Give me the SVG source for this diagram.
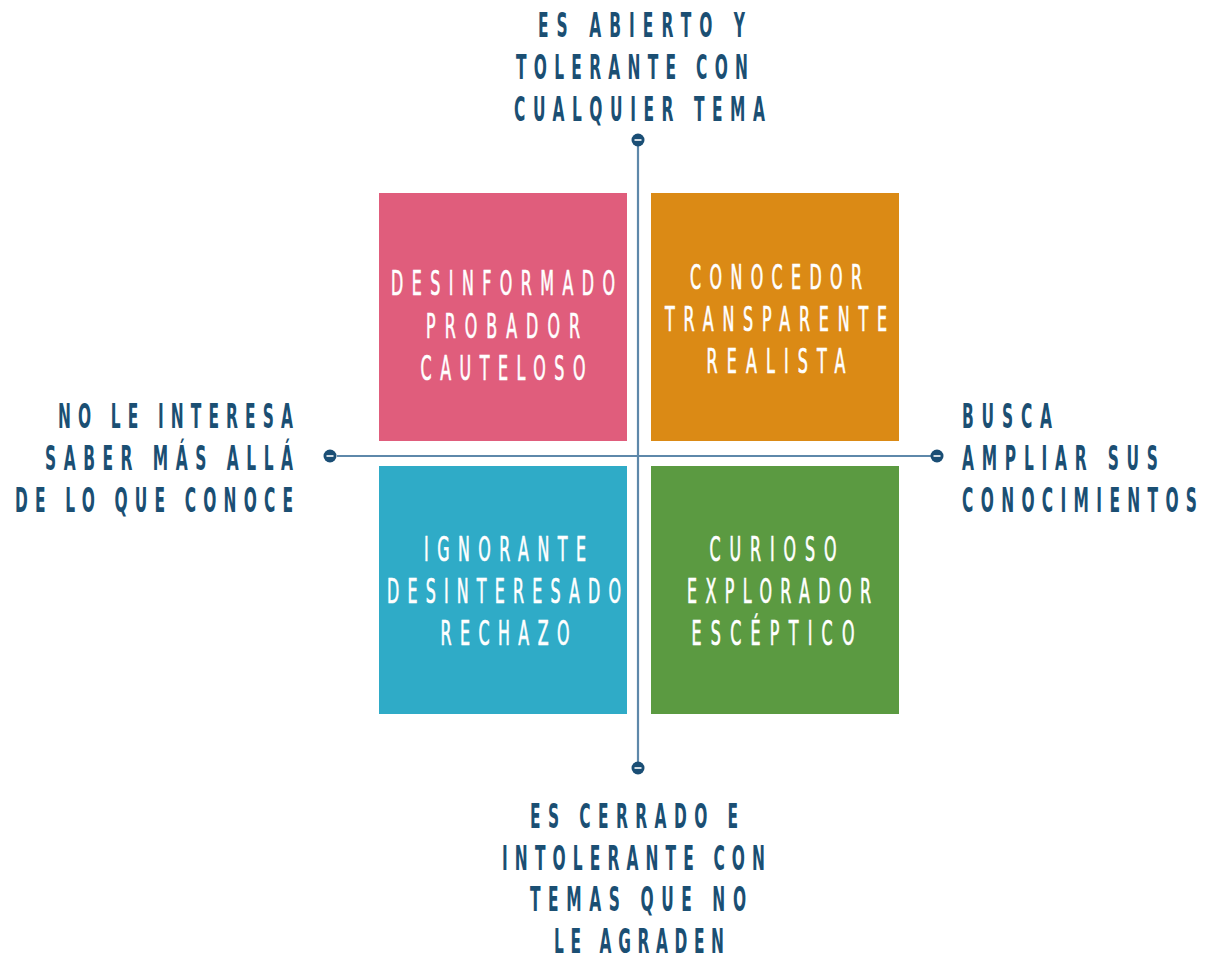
<svg xmlns="http://www.w3.org/2000/svg" width="1209" height="961" viewBox="0 0 1209 961">
<style>
.lbl{font-family:"DejaVu Sans Condensed","DejaVu Sans","Liberation Sans",sans-serif;font-stretch:condensed;font-weight:bold;font-size:33px;fill:#1b4f73;}
.box{font-family:"DejaVu Sans Condensed","DejaVu Sans","Liberation Sans",sans-serif;font-stretch:condensed;font-size:34px;fill:#ffffff;text-anchor:middle;stroke:#ffffff;stroke-width:0.7;}
.axis{stroke:#5e88aa;stroke-width:2.2;fill:none;}
.dot{fill:#1a4e75;}
.dash{stroke:#ffffff;stroke-width:1.6;}
</style>
<rect width="1209" height="961" fill="#ffffff"/>
<g id="connectors">
<line class="axis" x1="638" y1="146" x2="638" y2="762"/>
<line class="axis" x1="337" y1="456" x2="931" y2="456"/>
</g>
<g id="node-top-end"><circle class="dot" cx="638" cy="140" r="6.5"/><line class="dash" x1="634.5" y1="140" x2="641.5" y2="140"/></g>
<g id="node-bottom-end"><circle class="dot" cx="638" cy="768" r="6.5"/><line class="dash" x1="634.5" y1="768" x2="641.5" y2="768"/></g>
<g id="node-left-end"><circle class="dot" cx="330" cy="456" r="6.5"/><line class="dash" x1="326.5" y1="456" x2="333.5" y2="456"/></g>
<g id="node-right-end"><circle class="dot" cx="937" cy="456" r="6.5"/><line class="dash" x1="933.5" y1="456" x2="940.5" y2="456"/></g>

<g id="node-desinformado">
<rect x="379" y="193" width="248" height="248" fill="#e05d7c"/>
<text class="box" transform="translate(503,295) scale(0.52,1)" textLength="430.8" lengthAdjust="spacing">DESINFORMADO</text>
<text class="box" transform="translate(503,338) scale(0.52,1)" textLength="296.2" lengthAdjust="spacing">PROBADOR</text>
<text class="box" transform="translate(503,380) scale(0.52,1)" textLength="317.3" lengthAdjust="spacing">CAUTELOSO</text>
</g>
<g id="node-conocedor">
<rect x="651" y="193" width="248" height="248" fill="#db8a15"/>
<text class="box" transform="translate(776,289) scale(0.52,1)" textLength="330.8" lengthAdjust="spacing">CONOCEDOR</text>
<text class="box" transform="translate(776,331) scale(0.52,1)" textLength="426.9" lengthAdjust="spacing">TRANSPARENTE</text>
<text class="box" transform="translate(776,373) scale(0.52,1)" textLength="267.3" lengthAdjust="spacing">REALISTA</text>
</g>
<g id="node-ignorante">
<rect x="379" y="466" width="248" height="248" fill="#2fabc7"/>
<text class="box" transform="translate(505,561) scale(0.52,1)" textLength="311.5" lengthAdjust="spacing">IGNORANTE</text>
<text class="box" transform="translate(504,603) scale(0.52,1)" textLength="450" lengthAdjust="spacing">DESINTERESADO</text>
<text class="box" transform="translate(505,645) scale(0.52,1)" textLength="248.1" lengthAdjust="spacing">RECHAZO</text>
</g>
<g id="node-curioso">
<rect x="651" y="466" width="248" height="248" fill="#5b9a41"/>
<text class="box" transform="translate(773,561) scale(0.52,1)" textLength="244.2" lengthAdjust="spacing">CURIOSO</text>
<text class="box" transform="translate(779,603) scale(0.52,1)" textLength="353.8" lengthAdjust="spacing">EXPLORADOR</text>
<text class="box" transform="translate(773,645) scale(0.52,1)" textLength="313.5" lengthAdjust="spacing">ESCÉPTICO</text>
</g>

<g id="node-top-label">
<text class="lbl" transform="translate(538,37) scale(0.52,1)" textLength="398.1" lengthAdjust="spacing">ES ABIERTO Y</text>
<text class="lbl" transform="translate(516,79) scale(0.52,1)" textLength="446.2" lengthAdjust="spacing">TOLERANTE CON</text>
<text class="lbl" transform="translate(514,121) scale(0.52,1)" textLength="482.7" lengthAdjust="spacing">CUALQUIER TEMA</text>
</g>
<g id="node-left-label">
<text class="lbl" transform="translate(58,428) scale(0.52,1)" textLength="451.9" lengthAdjust="spacing">NO LE INTERESA</text>
<text class="lbl" transform="translate(45,470) scale(0.52,1)" textLength="476.9" lengthAdjust="spacing">SABER MÁS ALLÁ</text>
<text class="lbl" transform="translate(15,512) scale(0.52,1)" textLength="534.6" lengthAdjust="spacing">DE LO QUE CONOCE</text>
</g>
<g id="node-right-label">
<text class="lbl" transform="translate(962,428) scale(0.52,1)" textLength="173.1" lengthAdjust="spacing">BUSCA</text>
<text class="lbl" transform="translate(962,470) scale(0.52,1)" textLength="376.9" lengthAdjust="spacing">AMPLIAR SUS</text>
<text class="lbl" transform="translate(962,512) scale(0.52,1)" textLength="451.9" lengthAdjust="spacing">CONOCIMIENTOS</text>
</g>
<g id="node-bottom-label">
<text class="lbl" transform="translate(530,828) scale(0.52,1)" textLength="400" lengthAdjust="spacing">ES CERRADO E</text>
<text class="lbl" transform="translate(502,870) scale(0.52,1)" textLength="505.8" lengthAdjust="spacing">INTOLERANTE CON</text>
<text class="lbl" transform="translate(530,911) scale(0.52,1)" textLength="415.4" lengthAdjust="spacing">TEMAS QUE NO</text>
<text class="lbl" transform="translate(554,953) scale(0.52,1)" textLength="326.9" lengthAdjust="spacing">LE AGRADEN</text>
</g>
</svg>
